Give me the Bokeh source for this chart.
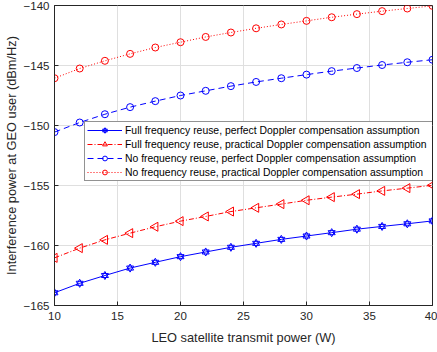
import numpy as np
from bokeh.plotting import figure
from bokeh.models import Range1d, Legend, LegendItem, FixedTicker
from bokeh.embed import file_html
from bokeh.resources import INLINE

# ---- data ----
power_w = [10, 12, 14, 16, 18, 20, 22, 24, 26, 28, 30, 32, 34, 36, 38, 40]
full_perfect = [-163.94, -163.15, -162.50, -161.88, -161.40, -160.93, -160.54, -160.15,
                -159.82, -159.49, -159.21, -158.93, -158.64, -158.41, -158.19, -157.95]
full_practical = [-161.03, -160.22, -159.53, -158.97, -158.44, -157.97, -157.58, -157.17,
                  -156.86, -156.55, -156.23, -155.97, -155.72, -155.45, -155.22, -154.98]
no_perfect = [-150.55, -149.75, -149.06, -148.47, -147.97, -147.50, -147.11, -146.72,
              -146.37, -146.06, -145.76, -145.47, -145.21, -144.96, -144.73, -144.52]
no_practical = [-146.06, -145.25, -144.61, -144.03, -143.50, -143.06, -142.62, -142.25,
                -141.90, -141.58, -141.28, -140.98, -140.72, -140.47, -140.25, -140.03]
labels = [
    "Full frequency reuse, perfect Doppler compensation assumption",
    "Full frequency reuse, practical Doppler compensation assumption",
    "No frequency reuse, perfect Doppler compensation assumption",
    "No frequency reuse, practical Doppler compensation assumption",
]
x_ticks = [10, 15, 20, 25, 30, 35, 40]
y_ticks = [-165, -160, -155, -150, -145, -140]

FONT = "Liberation Sans"
AX = "#262626"
BLUE = "#0000ff"
RED = "#ff0000"

p = figure(width=437, height=352, output_backend="svg", toolbar_location=None,
           x_range=Range1d(10, 40), y_range=Range1d(-165, -140),
           min_border_left=53, min_border_right=5, min_border_top=5, min_border_bottom=47)
p.background_fill_color = "white"
p.border_fill_color = "white"
p.outline_line_color = AX
p.outline_line_width = 1

for ax in (p.xaxis[0], p.yaxis[0]):
    ax.axis_line_color = AX
    ax.major_tick_line_color = AX
    ax.major_tick_in = 4
    ax.major_tick_out = 0
    ax.minor_tick_line_color = None
    ax.major_label_text_font = FONT
    ax.major_label_text_font_size = "11.5px"
    ax.major_label_text_color = AX
    ax.axis_label_text_font = FONT
    ax.axis_label_text_font_size = "12.8px"
    ax.axis_label_text_color = AX
    ax.axis_label_text_font_style = "normal"
p.xaxis.ticker = FixedTicker(ticks=x_ticks)
p.yaxis.ticker = FixedTicker(ticks=y_ticks)
p.xaxis.axis_label = "LEO satellite transmit power (W)"
p.yaxis.axis_label = "Interference power at GEO user (dBm/Hz)"
p.xaxis.major_label_standoff = 6
p.yaxis.major_label_standoff = 5
p.xaxis.axis_label_standoff = 7
p.yaxis.axis_label_standoff = 2

p.xgrid.ticker = FixedTicker(ticks=x_ticks)
p.ygrid.ticker = FixedTicker(ticks=y_ticks)
p.grid.grid_line_color = "#dfdfdf"
p.grid.grid_line_width = 1

# series 1: solid blue, hexagram marker
l1 = p.line(power_w, full_perfect, line_color=BLUE, line_width=1)
m1a = p.scatter(power_w, full_perfect, marker="triangle", size=7, line_color=BLUE,
                fill_color=None, line_width=1)
m1b = p.scatter(power_w, full_perfect, marker="inverted_triangle", size=7, line_color=BLUE,
                fill_color=None, line_width=1)
# series 2: red dash-dot, left triangle
l2 = p.line(power_w, full_practical, line_color=RED, line_width=1, line_dash="5 2 1 2")
m2 = p.scatter(power_w, full_practical, marker="triangle", angle=np.pi / 2, size=9,
               line_color=RED, fill_color=None, line_width=1)
# series 3: blue dashed, circle
l3 = p.line(power_w, no_perfect, line_color=BLUE, line_width=1, line_dash="6 4")
m3 = p.scatter(power_w, no_perfect, marker="circle", size=7, line_color=BLUE,
               fill_color=None, line_width=1)
# series 4: red dotted, circle
l4 = p.line(power_w, no_practical, line_color=RED, line_width=1, line_dash="1 2")
m4 = p.scatter(power_w, no_practical, marker="circle", size=7, line_color=RED,
               fill_color=None, line_width=1)

legend = Legend(items=[
    LegendItem(label=labels[0], renderers=[l1, m1a, m1b]),
    LegendItem(label=labels[1], renderers=[l2, m2]),
    LegendItem(label=labels[2], renderers=[l3, m3]),
    LegendItem(label=labels[3], renderers=[l4, m4]),
], location=(30, 124))
legend.label_text_font = FONT
legend.label_text_font_size = "10.4px"
legend.label_text_color = "black"
legend.glyph_width = 35
legend.glyph_height = 12
legend.label_height = 12
legend.label_standoff = 3
legend.label_width = 308
legend.spacing = 2
legend.padding = 2
legend.margin = 0
legend.border_line_color = AX
legend.border_line_width = 1
legend.background_fill_color = "white"
legend.background_fill_alpha = 1
p.add_layout(legend)

open("out.html", "w").write(file_html(p, INLINE))
